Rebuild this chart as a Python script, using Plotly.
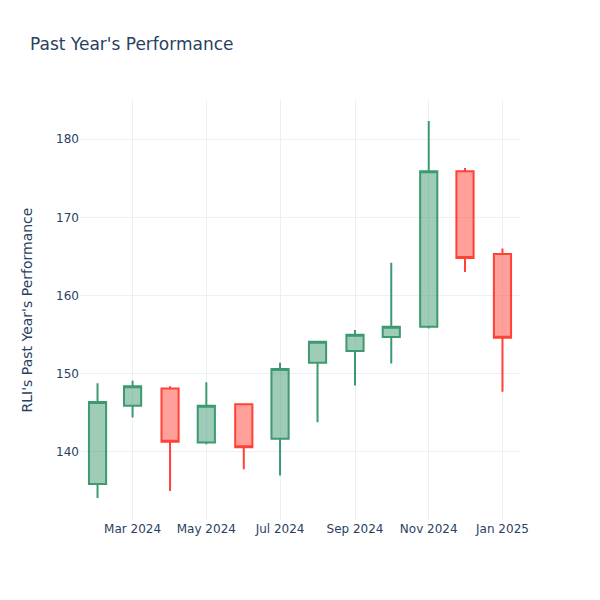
import plotly.graph_objects as go

dates = ["2024-02-01", "2024-03-01", "2024-04-01", "2024-05-01", "2024-06-01", "2024-07-01",
         "2024-08-01", "2024-09-01", "2024-10-01", "2024-11-01", "2024-12-01", "2025-01-01"]
open_ = [135.9, 145.9, 148.1, 141.2, 146.1, 141.7, 151.4, 152.9, 154.7, 156.0, 175.9, 165.3]
high = [148.8, 149.1, 148.4, 148.9, 146.2, 151.4, 154.2, 155.6, 164.2, 182.3, 176.3, 166.0]
low = [134.1, 144.4, 135.0, 141.0, 137.8, 137.0, 143.8, 148.5, 151.3, 155.8, 163.0, 147.7]
close = [146.4, 148.4, 141.3, 145.9, 140.6, 150.6, 154.1, 155.0, 156.0, 175.9, 164.8, 154.6]

fig = go.Figure(go.Candlestick(x=dates, open=open_, high=high, low=low, close=close))
fig.update_layout(
    template="plotly_white",
    font=dict(family="DejaVu Sans"),
    title=dict(text="Past Year's Performance", x=22 / 600, y=1 - 30 / 600, yref="container"),
    yaxis_title=dict(text="RLI's Past Year's Performance", standoff=20),
    xaxis_rangeslider_visible=False,
    yaxis_range=[131.3, 185.0],
    width=600, height=600,
    margin=dict(l=72, r=88, t=92, b=88),
)
fig.write_html("out.html")
